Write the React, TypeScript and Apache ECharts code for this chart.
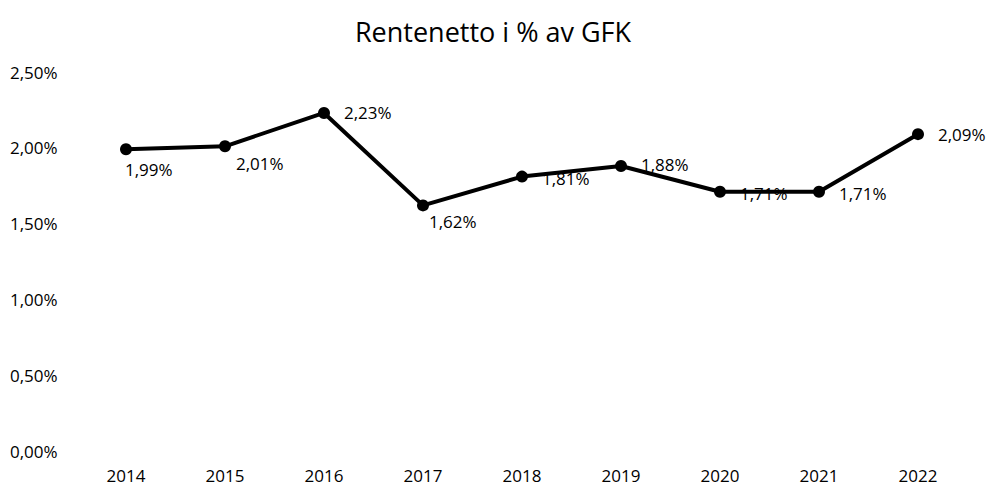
import React, { useEffect, useRef } from "react";
import * as echarts from "echarts";

const categories = ["2014", "2015", "2016", "2017", "2018", "2019", "2020", "2021", "2022"];
const values = [1.99, 2.01, 2.23, 1.62, 1.81, 1.88, 1.71, 1.71, 2.09];
const yTicks = [0, 0.5, 1, 1.5, 2, 2.5];
// label offsets (style) per point, relative to 'right' placement
const labelOffsets = [[-12, 20], [0, 17], [9, 0], [-5, 16], [9, 2], [9, -1], [9, 2], [9, 2], [9, 0]];

const fmt = (v: number) => v.toFixed(2).replace(".", ",") + "%";
const FONT = "'Open Sans', 'Noto Sans', sans-serif";

export default function App() {
  const ref = useRef<HTMLDivElement>(null);
  useEffect(() => {
    document.body.style.margin = "0";
    if (!ref.current) return;
    const chart = echarts.init(ref.current, null, { renderer: "svg" });
    chart.setOption({
      animation: false,
      backgroundColor: "#ffffff",
      title: {
        text: "Rentenetto i % av GFK",
        left: "center",
        top: 13,
        textStyle: { fontFamily: FONT, fontSize: 27, fontWeight: "normal", color: "#000" },
      },
      grid: { left: 76.5, right: 18.5, top: 72, bottom: 35, containLabel: false },
      xAxis: {
        type: "category",
        data: categories,
        boundaryGap: true,
        axisLine: { show: false },
        axisTick: { show: false },
        axisLabel: { color: "#000", fontFamily: FONT, fontSize: 17, margin: 16 },
      },
      yAxis: {
        type: "value",
        min: yTicks[0],
        max: yTicks[yTicks.length - 1],
        interval: 0.5,
        splitLine: { show: false },
        axisLine: { show: false },
        axisTick: { show: false },
        axisLabel: {
          color: "#000",
          fontFamily: FONT,
          fontSize: 17,
          align: "left",
          margin: 66.5,
          formatter: (v: number) => fmt(v),
        },
      },
      series: [
        {
          type: "line",
          data: values.map((v, i) => ({
            value: v,
            label: { offset: labelOffsets[i] },
          })),
          lineStyle: { color: "#000", width: 4 },
          itemStyle: { color: "#000" },
          symbol: "circle",
          symbolSize: 12,
          label: {
            show: true,
            position: "right",
            distance: 5,
            color: "#000",
            fontFamily: FONT,
            fontSize: 17,
            formatter: (p: any) => fmt(p.value),
          },
        },
      ],
    });
    return () => chart.dispose();
  }, []);
  return <div ref={ref} style={{ width: 986, height: 486 }} />;
}
